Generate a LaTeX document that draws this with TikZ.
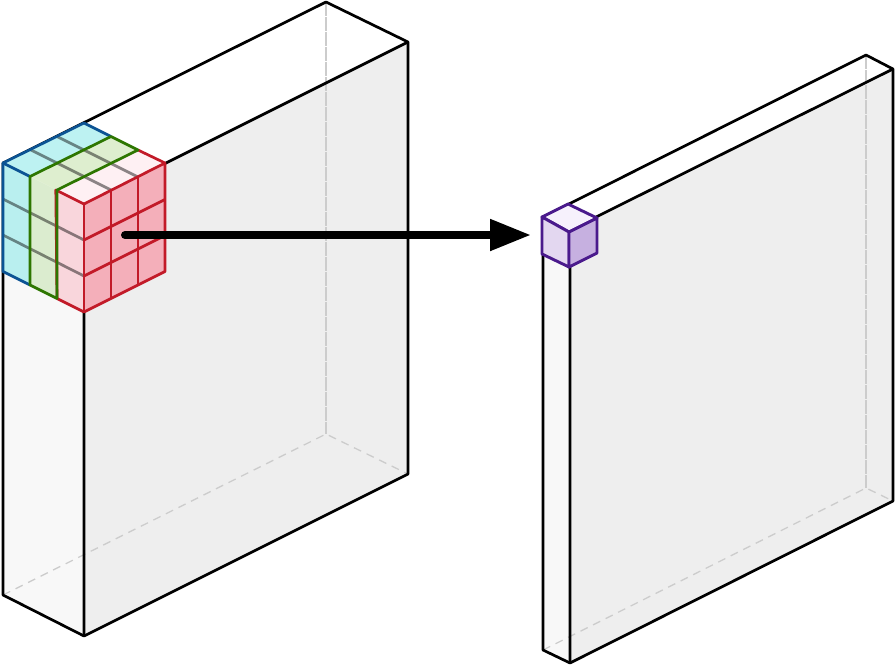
\documentclass[tikz,border=0pt]{standalone}
\usetikzlibrary{arrows.meta}
\definecolor{boxleft}{HTML}{F8F8F8}
\definecolor{boxright}{HTML}{EEEEEE}
\definecolor{hid}{HTML}{CCCCCC}
\definecolor{blueL}{HTML}{B9EFEF}
\definecolor{blueT}{HTML}{BDF2F2}
\definecolor{blueS}{HTML}{0B5394}
\definecolor{greenL}{HTML}{DBECCF}
\definecolor{greenT}{HTML}{DEEECF}
\definecolor{greenS}{HTML}{2D7600}
\definecolor{redL}{HTML}{F9D6DC}
\definecolor{redR}{HTML}{F4AFBA}
\definecolor{redT}{HTML}{FEF0F3}
\definecolor{redS}{HTML}{C21A28}
\definecolor{purT}{HTML}{F6F1FC}
\definecolor{purL}{HTML}{E3D7F0}
\definecolor{purR}{HTML}{C6B0E0}
\definecolor{purS}{HTML}{4A1A8C}
\tikzset{
  x=1pt,y=-1pt,
  edge/.style={draw=black,line width=2.7pt,line join=round},
  hidsolid/.style={draw=hid,line width=1.3pt,dash pattern=on 14pt off 1pt},
  hiddash/.style={draw=hid,line width=1.3pt,dash pattern=on 8pt off 6pt},
  innerline/.style={draw=black,opacity=.45,line width=2.7pt},
  blueline/.style={draw=blueS,line width=2.7pt,line join=round},
  greenline/.style={draw=greenS,line width=2.7pt,line join=round},
  redline/.style={draw=redS,line width=2.7pt,line join=round},
  purline/.style={draw=purS,line width=2.9pt,line join=round},
}
\begin{document}
\begin{tikzpicture}
\useasboundingbox (0,0) rectangle (895,665);
% left box
\coordinate (aL) at (3,163); \coordinate (aB) at (326,2); \coordinate (aR) at (408,42); \coordinate (aF) at (84,204);
\coordinate (aLb) at (3,595); \coordinate (aFb) at (84,636); \coordinate (aRb) at (408,474); \coordinate (aBb) at (326,434);
\fill[boxleft] (aL)--(aF)--(aFb)--(aLb)--cycle;
\fill[boxright] (aF)--(aR)--(aRb)--(aFb)--cycle;
\draw[hidsolid] (aB)--(aBb);
\draw[hiddash] (aLb)--(aBb)--(aRb);
\draw[edge] (aL)--(aB)--(aR)--(aRb)--(aFb)--(aLb)--cycle;
\draw[edge] (aR)--(aF)--(aFb);
% right box
\coordinate (bL) at (543,217); \coordinate (bB) at (866,55); \coordinate (bR) at (893,69); \coordinate (bF) at (570,230);
\coordinate (bLb) at (543,650); \coordinate (bFb) at (570,663); \coordinate (bRb) at (893,501); \coordinate (bBb) at (866,488);
\fill[boxleft] (bL)--(bF)--(bFb)--(bLb)--cycle;
\fill[boxright] (bF)--(bR)--(bRb)--(bFb)--cycle;
\draw[hidsolid] (bB)--(bBb);
\draw[hiddash] (bLb)--(bBb)--(bRb);
\draw[edge] (bL)--(bB)--(bR)--(bRb)--(bFb)--(bLb)--cycle;
\draw[edge] (bR)--(bF)--(bFb);
% cube faces
\fill[blueL] (3,163)--(30,176.5)--(30,285)--(3,271.5)--cycle;
\fill[greenL] (30,176.5)--(57,190)--(57,298.5)--(30,285)--cycle;
\fill[redL] (57,190)--(84,204)--(84,312)--(57,298.5)--cycle;
\fill[redR] (84,204)--(165,163)--(165,271.5)--(84,312)--cycle;
\fill[blueT] (3,163)--(84,123)--(111,136.5)--(30,176.5)--cycle;
\fill[greenT] (30,176.5)--(111,136.5)--(138,150)--(57,190)--cycle;
\fill[redT] (57,190)--(138,150)--(165,163)--(84,204)--cycle;
% see-through lines
\draw[innerline] (3,199)--(84,240);
\draw[innerline] (3,235)--(84,276);
\draw[innerline] (30,149.5)--(111,190);
\draw[innerline] (57,136.5)--(138,177);
% red outlines
\draw[redline] (138,150)--(165,163)--(165,271.5)--(84,312)--(57,298.5)--(55.8,190)--(84,204)--(165,163);
\draw[redline] (84,204)--(84,312);
\draw[redline] (111,190)--(111,298.5);
\draw[redline] (138,177)--(138,285);
\draw[redline] (84,240)--(165,199.5);
\draw[redline] (84,276)--(165,235.5);
% blue outline
\draw[blueline] (30,176.5)--(3,163)--(84,123)--(111,136.5);
\draw[blueline] (3,163)--(3,271.5)--(30,285);
% green outline
\draw[greenline] (30,285)--(57,298.5)--(57,190)--(138,150)--(111,136.5)--(30,176.5)--cycle;
% arrow
\coordinate (arrS) at (125,235);
\coordinate (arrE) at (531,235);
\draw[line width=8pt,line cap=round,-{Triangle[length=41pt,width=30pt]}] (arrS)--(arrE);
% purple cube
\filldraw[purline,fill=purT] (542,217)--(568,204)--(597,218)--(569,232)--cycle;
\filldraw[purline,fill=purL] (542,217)--(569,232)--(569,267)--(542,254)--cycle;
\filldraw[purline,fill=purR] (569,232)--(597,218)--(597,253)--(569,267)--cycle;
\end{tikzpicture}
\end{document}
